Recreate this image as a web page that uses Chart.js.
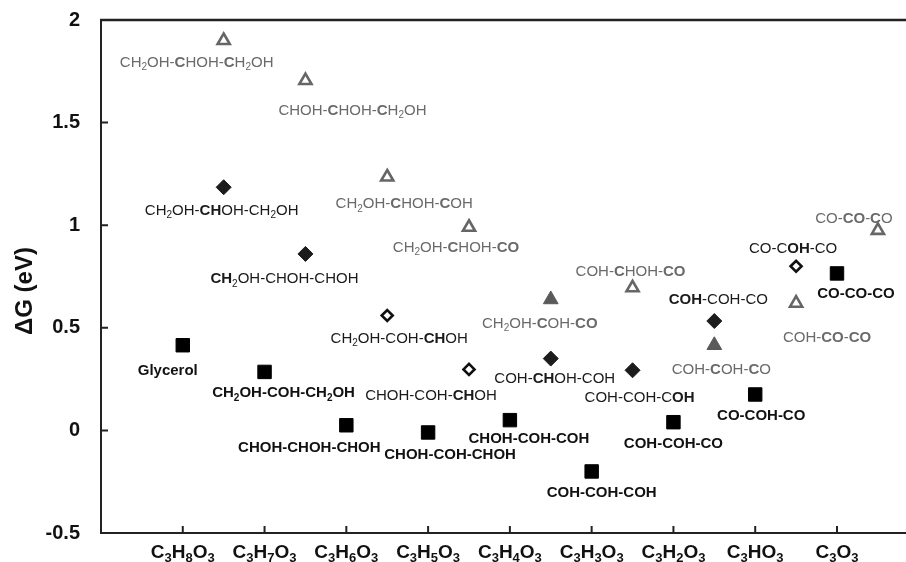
<!DOCTYPE html>
<html>
<head>
<meta charset="utf-8">
<script src="https://cdn.jsdelivr.net/npm/chart.js@4/dist/chart.umd.min.js"></script>
<style>
  html, body { margin: 0; padding: 0; background: #fff; overflow: hidden; }
</style>
</head>
<body>
<canvas id="chart" width="917" height="562"></canvas>
<script>
// "_x" = subscript char, "*...*" = bold part
const categories = ["C_3H_8O_3", "C_3H_7O_3", "C_3H_6O_3", "C_3H_5O_3", "C_3H_4O_3",
  "C_3H_3O_3", "C_3H_2O_3", "C_3HO_3", "C_3O_3"];
const yTicks = [-0.5, 0, 0.5, 1, 1.5, 2];

// filled black squares
const squarePos = [0, 1, 2, 3, 4, 5, 6, 7, 8];
const squareVal = [0.415, 0.285, 0.025, -0.01, 0.05, -0.2, 0.04, 0.175, 0.765];
const squareLbl = ["Glycerol", "CH_2OH-COH-CH_2OH", "CHOH-CHOH-CHOH", "CHOH-COH-CHOH",
  "CHOH-COH-COH", "COH-COH-COH", "COH-COH-CO", "CO-COH-CO", "CO-CO-CO"];

// filled dark diamonds
const diamondPos = [0.5, 1.5, 4.5, 5.5, 6.5];
const diamondVal = [1.185, 0.86, 0.35, 0.293, 0.533];
const diamondLbl = ["CH_2OH-*CH*OH-CH_2OH", "*CH*_2OH-CHOH-CHOH", "COH-*CH*OH-COH",
  "COH-COH-C*OH*", "*COH*-COH-CO"];

// open diamonds
const openDiaPos = [2.5, 3.5, 7.5];
const openDiaVal = [0.56, 0.297, 0.80];
const openDiaLbl = ["CH_2OH-COH-*CH*OH", "CHOH-COH-*CH*OH", "CO-C*OH*-CO"];

// open grey triangles
const openTriPos = [0.5, 1.5, 2.5, 3.5, 5.5, 7.5, 8.5];
const openTriVal = [1.9, 1.705, 1.235, 0.99, 0.695, 0.62, 0.975];
const openTriLbl = ["CH_2OH-*C*HOH-*C*H_2OH", "CHOH-*C*HOH-*C*H_2OH", "CH_2OH-*C*HOH-*C*OH",
  "CH_2OH-*C*HOH-*CO*", "COH-*C*HOH-*CO*", "COH-*CO*-*CO*", "CO-*CO*-*C*O"];

// filled grey triangles
const fillTriPos = [4.5, 6.5];
const fillTriVal = [0.638, 0.415];
const fillTriLbl = ["CH_2OH-*C*OH-*CO*", "COH-*C*OH-*C*O"];

// label placement relative to the marker (px)
const squareOff = [[-15, 24], [19, 20], [-37, 21], [22, 21], [19, 17], [10, 20], [0, 20], [6, 20], [19, 19]];
const diamondOff = [[-2, 22], [-21, 24], [4, 19], [7, 26], [4, -22]];
const openDiaOff = [[12, 22], [-38, 25], [-3, -19]];
const openTriOff = [[-27, 21], [47, 29], [17, 26], [-13, 19], [-2, -17], [31, 33], [-24, -13]];
const fillTriOff = [[-11, 23], [7, 23]];

const FONT = '"Liberation Sans", Arial, sans-serif';

function toPoints(pos, val) {
  return pos.map((p, i) => ({ x: p, y: val[i] }));
}

function drawRich(ctx, text, cx, cy, size, baseBold, color) {
  const segs = [];
  let bold = false;
  for (let i = 0; i < text.length; i++) {
    const ch = text[i];
    if (ch === '*') { bold = !bold; continue; }
    let sub = false, t = ch;
    if (ch === '_') { sub = true; t = text[++i]; }
    const b = bold || baseBold;
    const last = segs[segs.length - 1];
    if (last && last.b === b && last.sub === sub) last.t += t;
    else segs.push({ t, b, sub });
  }
  let total = 0;
  segs.forEach(s => {
    s.font = (s.b ? 'bold ' : '') + (s.sub ? Math.round(size * 0.68) : size) + 'px ' + FONT;
    ctx.font = s.font;
    s.w = ctx.measureText(s.t).width;
    total += s.w;
  });
  let x = cx - total / 2;
  const base = cy + size * 0.36;
  ctx.fillStyle = color;
  ctx.textAlign = 'left';
  ctx.textBaseline = 'alphabetic';
  segs.forEach(s => {
    ctx.font = s.font;
    ctx.fillText(s.t, x, s.sub ? base + size * 0.22 : base);
    x += s.w;
  });
}

const labelSets = [
  { ds: 0, lbl: squareLbl, off: squareOff, bold: true, color: '#111', size: 15 },
  { ds: 1, lbl: diamondLbl, off: diamondOff, bold: false, color: '#1a1a1a', size: 15 },
  { ds: 2, lbl: openDiaLbl, off: openDiaOff, bold: false, color: '#1a1a1a', size: 15 },
  { ds: 3, lbl: openTriLbl, off: openTriOff, bold: false, color: '#6a6a6a', size: 15 },
  { ds: 4, lbl: fillTriLbl, off: fillTriOff, bold: false, color: '#6a6a6a', size: 15 }
];

const decorations = {
  id: 'decorations',
  afterDraw(chart) {
    const ctx = chart.ctx;
    const area = chart.chartArea;
    const xs = chart.scales.x, ys = chart.scales.y;
    ctx.save();
    // top frame line
    ctx.strokeStyle = '#222';
    ctx.lineWidth = 2.5;
    ctx.beginPath();
    ctx.moveTo(area.left - 1, area.top);
    ctx.lineTo(chart.width, area.top);
    ctx.stroke();
    // inward tick marks
    ctx.lineWidth = 2;
    ctx.beginPath();
    categories.forEach((c, i) => {
      const px = xs.getPixelForValue(i);
      ctx.moveTo(px, area.bottom);
      ctx.lineTo(px, area.bottom - 7);
    });
    yTicks.forEach(v => {
      const py = ys.getPixelForValue(v);
      ctx.moveTo(area.left, py);
      ctx.lineTo(area.left + 7, py);
    });
    ctx.stroke();
    // category labels with subscripts
    categories.forEach((c, i) => {
      drawRich(ctx, c, xs.getPixelForValue(i), area.bottom + 18, 19, true, '#111');
    });
    // point labels
    labelSets.forEach(set => {
      const meta = chart.getDatasetMeta(set.ds);
      meta.data.forEach((pt, i) => {
        drawRich(ctx, set.lbl[i], pt.x + set.off[i][0], pt.y + set.off[i][1], set.size, set.bold, set.color);
      });
    });
    // y axis title
    ctx.translate(25, 291);
    ctx.rotate(-Math.PI / 2);
    ctx.font = 'bold 24px ' + FONT;
    ctx.fillStyle = '#111';
    ctx.textAlign = 'center';
    ctx.textBaseline = 'middle';
    ctx.fillText('ΔG (eV)', 0, 0);
    ctx.restore();
  }
};

new Chart(document.getElementById('chart'), {
  type: 'scatter',
  data: {
    datasets: [
      {
        data: toPoints(squarePos, squareVal),
        pointStyle: 'rect', pointRadius: 9.5, borderWidth: 1,
        backgroundColor: '#000', borderColor: '#000'
      },
      {
        data: toPoints(diamondPos, diamondVal),
        pointStyle: 'rectRot', pointRadius: 7.5, borderWidth: 1,
        backgroundColor: '#1c1c1c', borderColor: '#1c1c1c'
      },
      {
        data: toPoints(openDiaPos, openDiaVal),
        pointStyle: 'rectRot', pointRadius: 5.5, borderWidth: 2.6,
        backgroundColor: '#fff', borderColor: '#111'
      },
      {
        data: toPoints(openTriPos, openTriVal),
        pointStyle: 'triangle', pointRadius: 7, borderWidth: 2.6,
        backgroundColor: '#fff', borderColor: '#666'
      },
      {
        data: toPoints(fillTriPos, fillTriVal),
        pointStyle: 'triangle', pointRadius: 8.5, borderWidth: 1,
        backgroundColor: '#5a5a5a', borderColor: '#5a5a5a'
      }
    ]
  },
  options: {
    responsive: false,
    animation: false,
    layout: { padding: { top: 20, right: 0, bottom: 0, left: 0 } },
    plugins: { legend: { display: false }, tooltip: { enabled: false } },
    scales: {
      x: {
        type: 'linear',
        min: -1,
        max: 8.85,
        grid: { display: false },
        border: { display: true, color: '#222', width: 2 },
        ticks: { display: false },
        afterFit(scale) { scale.height = 29; }
      },
      y: {
        min: -0.5,
        max: 2,
        grid: { display: false, drawTicks: false },
        border: { display: true, color: '#222', width: 2 },
        afterBuildTicks(scale) { scale.ticks = yTicks.map(v => ({ value: v })); },
        ticks: {
          padding: 21,
          color: '#111',
          font: { family: FONT, size: 20, weight: 'bold' },
          callback: v => String(v)
        },
        afterFit(scale) {
          scale.width = 101;
          scale.paddingTop = 10;
          scale.paddingBottom = 10;
        }
      }
    }
  },
  plugins: [decorations]
});
</script>
</body>
</html>
